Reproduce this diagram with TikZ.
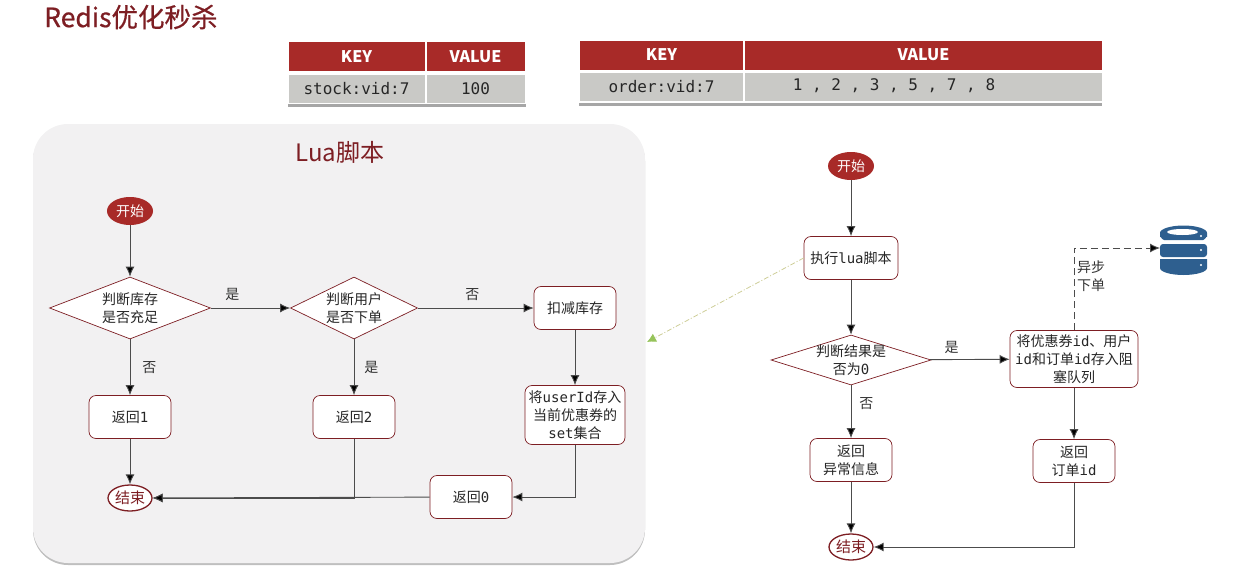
\documentclass[tikz,border=0pt]{standalone}
\usepackage{fontspec}
\setmainfont{Noto Sans CJK SC}
\setmonofont{DejaVu Sans Mono}
\newfontfamily\titlefont[FakeBold=0.7]{Noto Sans CJK SC}
\usetikzlibrary{positioning,arrows.meta,shapes.geometric,shadows}
\definecolor{redisclr}{RGB}{168,42,40}
\definecolor{darkclr}{RGB}{125,30,35}
\definecolor{rowclr}{RGB}{201,201,198}
\definecolor{panelclr}{RGB}{242,241,242}
\definecolor{dbclr}{RGB}{46,95,143}
\definecolor{linkclr}{RGB}{205,205,150}
\definecolor{linktip}{RGB}{150,195,90}
\tikzset{
  flow/.style={-{Latex[length=10pt,width=9pt,fill=black]},draw=black!70,line width=0.9pt},
  startnode/.style={ellipse,fill=redisclr,text=white,inner sep=0pt,
              minimum width=46pt,minimum height=28pt,font=\fontsize{14}{16}\selectfont},
  endnode/.style={ellipse,draw=darkclr,line width=1.3pt,fill=white,text=darkclr,inner sep=0pt,
              minimum width=44pt,minimum height=26pt,font=\fontsize{15}{17}\selectfont},
  stepbox/.style={rectangle,draw=darkclr,line width=0.7pt,fill=white,rounded corners=7pt,align=center,inner sep=1pt,
              text=black!85,minimum width=82pt,minimum height=43pt,
              font=\fontsize{14}{18}\selectfont},
  choice/.style={diamond,draw=darkclr,line width=0.7pt,fill=white,align=center,inner sep=0pt,
              text=black!85,font=\fontsize{14}{18}\selectfont},
  lbl/.style={text=black!80,inner sep=0pt,font=\fontsize{14}{16}\selectfont},
  headcell/.style={rectangle,fill=redisclr,text=white,minimum height=29pt,inner sep=0pt,
              font=\bfseries\fontsize{16}{18}\selectfont},
  rowcell/.style={rectangle,fill=rowclr,text=black!85,minimum height=28pt,inner sep=0pt,
              font=\ttfamily\fontsize{16}{18}\selectfont},
  tablebase/.style={rectangle,fill=white,inner sep=0pt,
              drop shadow={shadow xshift=0pt,shadow yshift=-3pt,opacity=.35,fill=black}},
}

\begin{document}
\begin{tikzpicture}[x=1pt,y=-1pt]
\useasboundingbox (0,0) rectangle (1254,581);

\node[anchor=west,text=darkclr,inner sep=0pt,font=\titlefont\fontsize{26.5}{30}\selectfont] (title) at (44,17) {Redis优化秒杀};

% the two tables
\node[tablebase,minimum width=238pt,minimum height=63pt] (tabone) at (406.5,72) {};
\node[headcell,minimum width=136pt] (keyone) at (356.5,56.5) {KEY};
\node[headcell,minimum width=98pt] (valone) at (475.5,56.5) {VALUE};
\node[rowcell,minimum width=136pt] (rowkeyone) at (356.5,88.5) {stock:vid:7};
\node[rowcell,minimum width=98pt] (rowvalone) at (475.5,88.5) {100};

\node[tablebase,minimum width=523pt,minimum height=63pt] (tabtwo) at (840.5,71) {};
\node[headcell,minimum width=163pt] (keytwo) at (661.5,55) {KEY};
\node[headcell,minimum width=357pt] (valtwo) at (923.5,55) {VALUE};
\node[rowcell,minimum width=163pt] (rowkeytwo) at (661.5,87) {order:vid:7};
\node[rowcell,minimum width=357pt] (rowvaltwo) at (923.5,87) {};
\node[font=\ttfamily\fontsize{16}{18}\selectfont,text=black!85,inner sep=0pt] (nums) at (894,86) {1 , 2 , 3 , 5 , 7 , 8};

% lua panel
\node[rectangle,fill=panelclr,rounded corners=35pt,minimum width=612pt,minimum height=439pt,
      drop shadow={shadow xshift=0pt,shadow yshift=-2pt,opacity=.25,fill=black}] (panel) at (339,343.5) {};
\node[text=darkclr,inner sep=0pt,font=\fontsize{24}{28}\selectfont] (luatitle) at (340,152) {Lua脚本};

\node[startnode] (lstart) at (130,211) {开始};
\node[choice,minimum width=161pt,minimum height=62pt,aspect=2.6] (lstock) at (130,308) {判断库存\\是否充足};
\node[choice,minimum width=127pt,minimum height=62pt,aspect=2.05,inner xsep=-3pt] (luser) at (354,308) {判断用户\\是否下单};
\node[stepbox] (ldeduct) at (575,308) {扣减库存};
\node[stepbox] (lret1) at (130,417) {返回\texttt{1}};
\node[stepbox] (lret2) at (354,417) {返回\texttt{2}};
\node[stepbox,minimum width=100pt,minimum height=59pt] (lsave) at (575,415) {将\texttt{userId}存入\\当前优惠券的\\\texttt{set}集合};
\node[stepbox] (lret0) at (471,497) {返回\texttt{0}};
\node[endnode] (lend) at (130,498) {结束};

\draw[flow] (lstart) -- (lstock);
\draw[flow] (lstock) -- node[lbl,pos=.27,above=7pt] (lyes1) {是} (luser);
\draw[flow] (luser) -- node[lbl,pos=.47,above=7pt] (lno2) {否} (ldeduct);
\draw[flow] (lstock) -- node[lbl,right=12pt] (lno1) {否} (lret1);
\draw[flow] (luser) -- node[lbl,right=10pt] (lyes2) {是} (lret2);
\draw[flow] (ldeduct) -- (lsave);
\draw[flow] (lsave) |- (lret0);
\draw[flow] (lret1) -- (lend);
\draw[flow] (lret2) |- (lend);
\draw[flow] (lret0) -- (lend);

% right flow
\node[startnode] (rstart) at (851,166) {开始};
\node[stepbox,minimum width=94pt] (rexec) at (851,258) {执行\texttt{lua}脚本};
\node[choice,minimum width=160pt,minimum height=50pt,aspect=3.2,inner xsep=-16pt] (rcheck) at (851,360) {判断结果是\\否为\texttt{0}};
\node[stepbox,minimum width=128pt,minimum height=57pt] (rqueue) at (1074,359) {将优惠券\texttt{id}、用户\\\texttt{id}和订单\texttt{id}存入阻\\塞队列};
\node[stepbox] (rerr) at (851,460) {返回\\异常信息};
\node[stepbox] (rorder) at (1074,461) {返回\\订单\texttt{id}};
\node[endnode] (rend) at (851,547) {结束};
\coordinate (dbin) at (1160,248);
\coordinate (panelin) at (647,342);

\draw[flow] (rstart) -- (rexec);
\draw[flow] (rexec) -- (rcheck);
\draw[flow] (rcheck) -- node[lbl,pos=.27,above=5pt] (ryes) {是} (rqueue);
\draw[flow] (rcheck) -- node[lbl,pos=.35,right=8pt] (rno) {否} (rerr);
\draw[flow] (rqueue) -- (rorder);
\draw[flow] (rerr) -- (rend);
\draw[flow] (rorder) |- (rend);
\draw[flow,dash pattern=on 7pt off 4pt] (rqueue) |- (dbin);
\node[lbl,anchor=north west,align=left,font=\fontsize{14}{18}\selectfont] (rasync) at (1077,261) {异步\\下单};

\draw[-{Latex[length=9pt,width=9pt,color=linktip]},draw=linkclr,line width=0.8pt,dash pattern=on 5pt off 2pt on 1pt off 2pt] (rexec.west) -- (panelin);

% database icon
\fill[dbclr,rounded corners=3pt] (1160,244) rectangle (1207,257);
\fill[dbclr] (1160,233) arc[start angle=180,end angle=360,x radius=23.5,y radius=7.5] -- (1207,237) to[out=90,in=0] (1203,240) -- (1164,240) to[out=180,in=90] (1160,237) -- cycle;
\fill[dbclr] (1160,259) -- (1207,259) -- (1207,268) arc[start angle=0,end angle=180,x radius=23.5,y radius=7] -- cycle;
\fill[white] (1182.5,232) ellipse[x radius=15.5,y radius=3];
\fill[white] (1201,236) circle[radius=1.2] (1201,250) circle[radius=1.2] (1201,265) circle[radius=1.2];
\end{tikzpicture}
\end{document}
